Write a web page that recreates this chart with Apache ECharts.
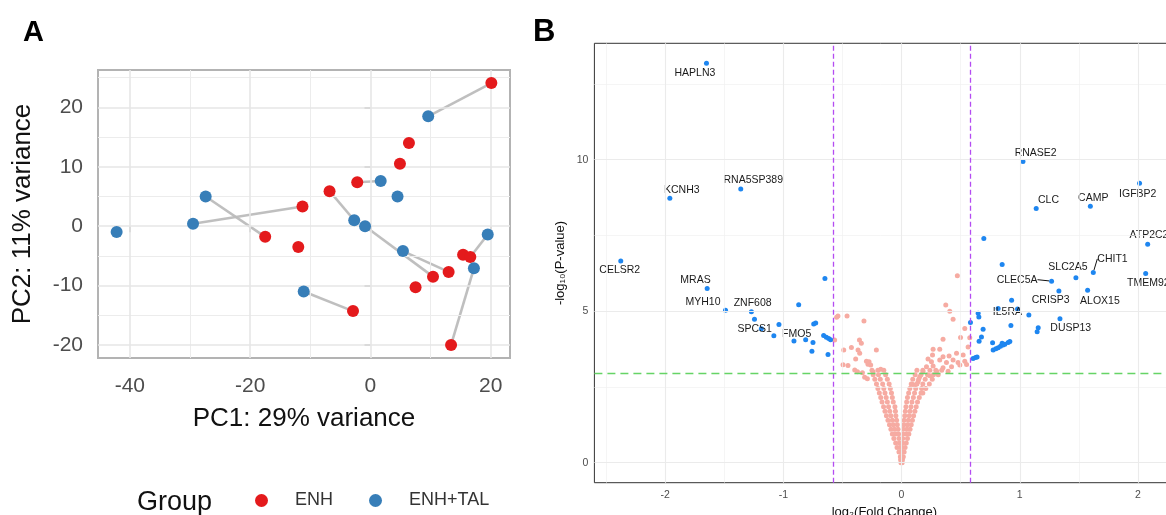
<!DOCTYPE html>
<html><head><meta charset="utf-8">
<script src="https://cdn.jsdelivr.net/npm/echarts@6/dist/echarts.min.js"></script>
<style>html,body{margin:0;padding:0;background:#fff}#c{width:1166px;height:515px}</style>
</head><body><div id="c"></div>
<script>
// ---------- Panel A : PCA ----------
const enhX = [20.1, 6.4, 4.9, -2.2, -6.8, -11.3, -17.5, -12.0, 15.4, 16.6, 13.0, 10.4, 7.5, -2.9, 13.4];
const enhY = [24.1, 14.0, 10.5, 7.4, 5.9, 3.3, -1.8, -3.5, -4.8, -5.2, -7.7, -8.5, -10.3, -14.3, -20.0];
const talX = [9.6, 1.7, 4.5, -27.4, -29.5, -42.2, -2.7, -0.9, 5.4, 19.5, 17.2, -11.1];
const talY = [18.5, 7.6, 5.0, 5.0, 0.4, -1.0, 1.0, 0.0, -4.2, -1.4, -7.1, -11.0];
// [ENH index, ENH+TAL index] of paired samples
const pairs = [[0,0],[3,1],[6,3],[5,4],[4,6],[11,7],[10,8],[9,9],[14,10],[13,11]];
const pcaXTicks = [-40, -20, 0, 20];
const pcaYTicks = [-20, -10, 0, 10, 20];
const pcaXMinor = [-30, -10, 10];
const pcaYMinor = [-15, -5, 5, 15, 25];

// ---------- Panel B : volcano ----------
const geneNames = ['HAPLN3','KCNH3','RNA5SP389','CELSR2','MRAS','MYH10','ZNF608','SPCS1','FMO5',
  'RNASE2','CLC','CAMP','IGFBP2','ATP2C2','CHIT1','SLC2A5','CLEC5A','TMEM92','CRISP3','ALOX15','IL5RA','DUSP13'];
const geneFC = [-1.65,-1.96,-1.36,-2.375,-1.644,-1.489,-1.27,-1.244,-0.91,
  1.027,1.139,1.597,2.013,2.082,1.622,1.475,1.269,2.065,1.331,1.574,0.931,1.34];
const geneP = [13.18,8.73,9.03,6.66,5.75,5.03,4.98,4.73,4.02,
  9.94,8.39,8.46,9.22,7.21,6.28,6.10,5.99,6.24,5.67,5.69,5.36,4.75];
// other significant genes (no label)
const sigPoints = [[-1.186,4.42],[-1.037,4.56],[-1.08,4.19],[-0.811,4.06],[-0.749,3.97],[-0.758,3.68],[-0.87,5.21],
  [-0.743,4.58],[-0.726,4.61],[-0.659,4.2],[-0.636,4.14],[-0.616,4.10],[-0.6,4.06],[-0.622,3.57],[-0.648,6.08],
  [0.696,7.40],[0.851,6.54],[0.817,5.09],[0.981,5.07],[1.077,4.87],[0.925,4.53],[1.156,4.45],[1.147,4.32],
  [0.648,4.93],[0.654,4.81],[0.583,4.63],[0.69,4.40],[0.676,4.15],[0.656,4.01],[0.77,3.96],[0.775,3.72],
  [0.798,3.76],[0.817,3.79],[0.837,3.84],[0.859,3.88],[0.874,3.91],[0.902,3.97],[0.916,4.0],[0.851,3.94],
  [0.605,3.44],[0.626,3.47],[0.639,3.49]];
// non-significant genes
const nsPoints = [
  [-0.538,4.84],[-0.549,4.80],[-0.461,4.84],[-0.318,4.68],[-0.566,4.05],[-0.356,4.05],[-0.340,3.94],[-0.489,3.72],
  [-0.424,3.80],[-0.368,3.72],[-0.354,3.61],[-0.213,3.72],[-0.388,3.42],[-0.495,3.23],[-0.453,3.21],[-0.297,3.35],
  [-0.275,3.33],[-0.284,3.25],[-0.261,3.22],[-0.176,3.08],[-0.396,3.06],[-0.373,3.0],[-0.331,2.97],[-0.241,2.99],
  [-0.312,2.82],[-0.289,2.77],
  [0.472,6.17],[0.374,5.20],[0.408,5.00],[0.436,4.73],[0.535,4.43],[0.577,4.12],[0.499,4.13],[0.351,4.07],
  [0.563,3.82],[0.267,3.74],[0.323,3.74],[0.262,3.55],[0.351,3.50],[0.402,3.52],[0.465,3.61],[0.521,3.55],
  [0.224,3.42],[0.253,3.33],[0.323,3.39],[0.38,3.31],[0.436,3.39],[0.478,3.31],[0.535,3.35],[0.211,3.17],
  [0.267,3.19],[0.351,3.13],[0.423,3.17],[0.493,3.22],[0.55,3.24],[0.182,3.0],[0.296,3.02],[0.394,3.02],
  [0.154,2.84],[0.239,2.87],[0.097,2.58],[0.14,2.67],
  [-0.005,0.0],[-0.008,0.1],[-0.01,0.2],[-0.002,0.2],[-0.022,0.35],[-0.006,0.35],[-0.038,0.5],[-0.012,0.5],
  [-0.05,0.65],[-0.018,0.65],[-0.065,0.8],[-0.022,0.8],[-0.078,0.95],[-0.05,0.95],[-0.025,0.95],
  [-0.09,1.1],[-0.06,1.1],[-0.03,1.1],[-0.102,1.25],[-0.07,1.25],[-0.036,1.25],[-0.115,1.4],[-0.078,1.4],[-0.042,1.4],
  [-0.128,1.55],[-0.09,1.55],[-0.048,1.55],[-0.14,1.7],[-0.1,1.7],[-0.052,1.7],[-0.152,1.85],[-0.11,1.85],[-0.056,1.85],
  [-0.165,2.0],[-0.12,2.0],[-0.07,2.0],[-0.176,2.15],[-0.13,2.15],[-0.078,2.15],[-0.188,2.3],[-0.14,2.3],[-0.085,2.3],
  [-0.2,2.45],[-0.15,2.45],[-0.095,2.45],[-0.212,2.6],[-0.16,2.6],[-0.105,2.6],[-0.226,2.75],[-0.18,2.75],[-0.12,2.75],
  [-0.24,2.9],[-0.195,2.9],[-0.135,2.9],[-0.25,3.05],[-0.2,3.05],[-0.15,3.05],
  [0.005,0.0],[0.008,0.1],[0.004,0.2],[0.015,0.2],[0.005,0.35],[0.022,0.35],[0.006,0.5],[0.03,0.5],
  [0.008,0.65],[0.04,0.65],[0.01,0.8],[0.05,0.8],[0.012,0.95],[0.04,0.95],[0.062,0.95],
  [0.015,1.1],[0.045,1.1],[0.072,1.1],[0.018,1.25],[0.05,1.25],[0.082,1.25],[0.022,1.4],[0.058,1.4],[0.092,1.4],
  [0.027,1.55],[0.065,1.55],[0.102,1.55],[0.032,1.7],[0.072,1.7],[0.113,1.7],[0.037,1.85],[0.08,1.85],[0.124,1.85],
  [0.043,2.0],[0.088,2.0],[0.135,2.0],[0.05,2.15],[0.1,2.15],[0.15,2.15],[0.06,2.3],[0.11,2.3],[0.165,2.3],[0.18,2.3],
  [0.07,2.45],[0.12,2.45],[0.17,2.45],[0.205,2.45],[0.082,2.6],[0.13,2.6],[0.18,2.6],[0.235,2.6],
  [0.095,2.75],[0.145,2.75],[0.2,2.75],[0.26,2.75],[0.115,2.9],[0.165,2.9],[0.22,2.9],[0.27,2.9],[0.31,2.9],
  [0.13,3.05],[0.18,3.05],[0.24,3.05],[0.29,3.05],[0.34,3.05]
];
const fcCut = [-0.585, 0.585];
const pCut = 2.94;
const volXTicks = [-2, -1, 0, 1, 2];
const volYTicks = [0, 5, 10];
const volXMinor = [-2.5, -1.5, -0.5, 0.5, 1.5];
const volYMinor = [2.5, 7.5, 12.5];

// ---------- styling / layout ----------
const FONT = 'Liberation Sans, Arial, Helvetica, sans-serif';
const labelOffsets = {
  HAPLN3:[-11.6,10], KCNH3:[12,-7.7], RNA5SP389:[12.5,-8.7], CELSR2:[-1,9.3], MRAS:[-11.7,-8.6],
  MYH10:[-22.5,-7.7], ZNF608:[1.2,-8.4], SPCS1:[0.2,9.9], FMO5:[2.7,-6.5], RNASE2:[12.7,-8],
  CLC:[12.3,-8.3], CAMP:[2.9,-8.7], IGFBP2:[-1.8,11], ATP2C2:[1.3,-9], CHIT1:[19.2,-13.5],
  SLC2A5:[-8,-10.5], CLEC5A:[-34.5,-1.5], TMEM92:[2.7,10], CRISP3:[-8.2,9.6], ALOX15:[12.3,10.5],
  IL5RA:[-4.2,12.2], DUSP13:[10.8,9.6]
};
const withLine = {CHIT1:true, CLEC5A:true};

function gridLines(xs, ys, width, color) {
  return xs.map(v => ({xAxis: v, lineStyle: {color, width, type: 'solid'}}))
    .concat(ys.map(v => ({yAxis: v, lineStyle: {color, width, type: 'solid'}})));
}

const pairSeries = pairs.map(([r, b]) => ({
  type: 'line', xAxisIndex: 0, yAxisIndex: 0, silent: true, z: 2, symbol: 'none',
  lineStyle: {color: '#bcbcbc', width: 2.6, opacity: 0.95},
  data: [[enhX[r], enhY[r]], [talX[b], talY[b]]]
}));

const chart = echarts.init(document.getElementById('c'), null, {renderer: 'canvas'});
const option = {
  animation: false,
  textStyle: {fontFamily: FONT},
  grid: [
    {left: 98, top: 70, width: 412, height: 288, show: true, borderColor: '#b3b3b3', borderWidth: 2,
     containLabel: false, outerBoundsMode: 'none'},
    {left: 594.4, top: 43.3, width: 580, height: 439.4, show: true, borderColor: '#333333', borderWidth: 1,
     containLabel: false, outerBoundsMode: 'none'}
  ],
  xAxis: [
    {gridIndex: 0, type: 'value', min: -45.3, max: 23.2,
     axisLine: {show: false}, splitLine: {show: false},
     axisTick: {show: true, length: 6, customValues: pcaXTicks, lineStyle: {color: '#a6a6a6', width: 1.6}},
     axisLabel: {customValues: pcaXTicks, fontSize: 21, color: '#4d4d4d', margin: 18, fontFamily: FONT},
     name: 'PC1: 29% variance', nameLocation: 'middle', nameGap: 48,
     nameTextStyle: {fontSize: 26, color: '#111', fontFamily: FONT}},
    {gridIndex: 1, type: 'value', min: -2.598, max: 2.308,
     axisLine: {show: false}, splitLine: {show: false},
     axisTick: {show: true, length: 4, customValues: volXTicks, lineStyle: {color: '#333', width: 1}},
     axisLabel: {customValues: volXTicks, fontSize: 10.5, color: '#4d4d4d', margin: 7, fontFamily: FONT},
     name: 'log\u2082(Fold Change)', nameLocation: 'middle', nameGap: 21,
     nameTextStyle: {fontSize: 13, color: '#111', fontFamily: FONT}}
  ],
  yAxis: [
    {gridIndex: 0, type: 'value', min: -22.2, max: 26.3,
     axisLine: {show: false}, splitLine: {show: false},
     axisTick: {show: true, length: 6, customValues: pcaYTicks, lineStyle: {color: '#a6a6a6', width: 1.6}},
     axisLabel: {customValues: pcaYTicks, fontSize: 21, color: '#4d4d4d', margin: 15, fontFamily: FONT},
     name: 'PC2: 11% variance', nameLocation: 'middle', nameGap: 62, nameRotate: 90,
     nameTextStyle: {fontSize: 26, color: '#111', fontFamily: FONT}},
    {gridIndex: 1, type: 'value', min: -0.66, max: 13.84,
     axisLine: {show: false}, splitLine: {show: false},
     axisTick: {show: true, length: 4, customValues: volYTicks, lineStyle: {color: '#333', width: 1}},
     axisLabel: {customValues: volYTicks, fontSize: 10.5, color: '#4d4d4d', margin: 6, fontFamily: FONT},
     name: '-log\u2081\u2080(P-value)', nameLocation: 'middle', nameGap: 27, nameRotate: 90,
     nameTextStyle: {fontSize: 13, color: '#111', fontFamily: FONT}}
  ],
  legend: {
    data: ['ENH', 'ENH+TAL'], left: 250, top: 486.5, icon: 'circle',
    itemWidth: 13, itemHeight: 13, itemGap: 36,
    textStyle: {fontSize: 18, color: '#333', padding: [0, 0, 0, 22], fontFamily: FONT}
  },
  graphic: [
    {type: 'text', left: 23, top: 18, style: {text: 'A', fontSize: 29, fontWeight: 'bold', fill: '#000', fontFamily: FONT}},
    {type: 'text', left: 533, top: 17, style: {text: 'B', fontSize: 31, fontWeight: 'bold', fill: '#000', fontFamily: FONT}},
    {type: 'text', left: 137, top: 489, style: {text: 'Group', fontSize: 27, fill: '#111', fontFamily: FONT}}
  ],
  series: [
    // Panel A grid lines
    {type: 'scatter', xAxisIndex: 0, yAxisIndex: 0, data: [], silent: true, z: 1,
     markLine: {silent: true, symbol: 'none', label: {show: false}, animation: false,
       data: gridLines(pcaXMinor, pcaYMinor, 1, '#ececec').concat(gridLines(pcaXTicks, pcaYTicks, 1.6, '#e6e6e6'))}}
  ].concat(pairSeries).concat([
    {name: 'ENH', type: 'scatter', xAxisIndex: 0, yAxisIndex: 0, z: 5, symbolSize: 12,
     itemStyle: {color: '#E41A1C', opacity: 1},
     data: enhX.map((x, i) => [x, enhY[i]])},
    {name: 'ENH+TAL', type: 'scatter', xAxisIndex: 0, yAxisIndex: 0, z: 5, symbolSize: 12,
     itemStyle: {color: '#377EB8', opacity: 1},
     data: talX.map((x, i) => [x, talY[i]])},
    // Panel B grid lines and thresholds
    {type: 'scatter', xAxisIndex: 1, yAxisIndex: 1, data: [], silent: true, z: 1,
     markLine: {silent: true, symbol: 'none', label: {show: false}, animation: false,
       data: gridLines(volXMinor, volYMinor, 0.7, '#f0f0f0').concat(gridLines(volXTicks, volYTicks, 1.1, '#ebebeb'))}},
    {type: 'scatter', xAxisIndex: 1, yAxisIndex: 1, z: 2, symbolSize: 5,
     itemStyle: {color: '#f6aba2', opacity: 1}, silent: true,
     data: nsPoints},
    {type: 'scatter', xAxisIndex: 1, yAxisIndex: 1, z: 3, symbolSize: 5,
     itemStyle: {color: '#1e86f0', opacity: 1}, silent: true,
     data: sigPoints,
     markLine: {silent: true, symbol: 'none', label: {show: false}, animation: false,
       data: fcCut.map(v => ({xAxis: v, lineStyle: {color: '#b44cf2', width: 1.3, type: [5, 3]}}))
         .concat([{yAxis: pCut, lineStyle: {color: '#66d466', width: 1.4, type: [8, 5]}}])}},
    {type: 'scatter', xAxisIndex: 1, yAxisIndex: 1, z: 4, symbolSize: 5,
     itemStyle: {color: '#1e86f0', opacity: 1}, silent: true,
     label: {show: true, position: 'inside', formatter: '{b}', fontSize: 10.5, color: '#1a1a1a', fontFamily: FONT},
     labelLine: {show: false, lineStyle: {color: '#111', width: 1}},
     labelLayout: function (p) {
       const o = labelOffsets[geneNames[p.dataIndex]];
       return {dx: o[0], dy: o[1]};
     },
     data: geneNames.map((n, i) => ({name: n, value: [geneFC[i], geneP[i]],
       labelLine: {show: !!withLine[n], lineStyle: {color: '#111', width: 1}}}))}
  ])
};
chart.setOption(option);
</script></body></html>
